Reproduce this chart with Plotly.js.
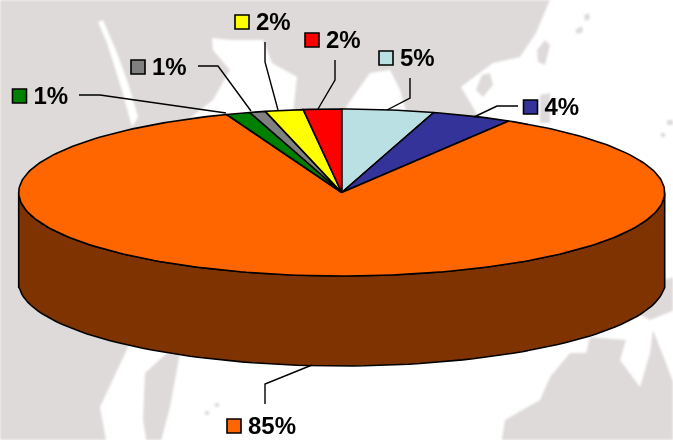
<!DOCTYPE html>
<html><head><meta charset="utf-8">
<script src="https://cdn.plot.ly/plotly-3.0.1.min.js"></script>
<style>html,body{margin:0;padding:0;background:#fff}#c{width:673px;height:440px}
#c .shapelayer{filter:blur(1.2px)}</style>
</head><body><div id="c"></div>
<script>
// Data: clockwise from 12 o'clock
const names = ['Cyan','Blue','Orange','Green','Gray','Yellow','Red'];
const values = [4.6,4.05,85.55,1.2,0.8,1.9,1.9];
const labels = ['5%','4%','85%','1%','1%','2%','2%'];
const colors = ['#bbe0e3','#333399','#ff6600','#008000','#808080','#ffff00','#ff0000'];
const sideColor = '#7f3300';

// Layout of the tilted pie
const cx=341.7, cy=192.5, rx=323, ry=83.5, depth=90, sideMin=95;
const keyX=[386,530.5,234,19.5,138,242,312];
const keyY=[58,107,426,96,67,22,40];
const textDx=14, textDy=1.5;
const leaderX=[[410,410,387],[518,497,474],[265,265,312],[79,100,226],[198,218,251],[265,265,278],[335,335,318]];
const leaderY=[[78,98,110],[106,106,117],[404,384,365],[95,95,113],[66,66,111],[42,62,110],[60,80,109]];

const px=a=>cx+rx*Math.sin(a), py=a=>cy-ry*Math.cos(a);
const total=values.reduce((s,v)=>s+v,0);
const traces=[];

// Side wall
const sx=[],sy=[];
for(let d=90;d<=270;d+=2){const a=d*Math.PI/180;sx.push(px(a));sy.push(py(a));}
for(let d=270;d>=90;d-=2){const a=d*Math.PI/180;sx.push(px(a));sy.push(Math.max(py(a)+depth,cy+sideMin));}
sx.push(sx[0]);sy.push(sy[0]);
traces.push({type:'scatter',mode:'lines',x:sx,y:sy,fill:'toself',fillcolor:sideColor,line:{color:'#000',width:1.6},hoverinfo:'skip',showlegend:false});

// Slices
let acc=0;
values.forEach((v,i)=>{
  const a0=acc/total*2*Math.PI, a1=(acc+v)/total*2*Math.PI; acc+=v;
  const x=[cx],y=[cy],n=Math.max(2,Math.ceil((a1-a0)/0.02));
  for(let k=0;k<=n;k++){const a=a0+(a1-a0)*k/n;x.push(px(a));y.push(py(a));}
  x.push(cx);y.push(cy);
  traces.push({type:'scatter',mode:'lines',name:names[i],x,y,fill:'toself',fillcolor:colors[i],line:{color:'#000',width:1.6},hoverinfo:'name',showlegend:false});
});

// Leader lines
values.forEach((v,i)=>traces.push({type:'scatter',mode:'lines',x:leaderX[i],y:leaderY[i],line:{color:'#000',width:1.4},hoverinfo:'skip',showlegend:false}));

// Legend keys and labels
traces.push({type:'scatter',mode:'markers',x:keyX,y:keyY,
  marker:{symbol:'square',size:14,color:colors,line:{color:'#000',width:1.6}},hoverinfo:'skip',showlegend:false,cliponaxis:false});
traces.push({type:'scatter',mode:'text',x:keyX.map(x=>x+textDx),y:keyY.map(y=>y+textDy),text:labels,textposition:'middle right',
  textfont:{family:'Liberation Sans, Arial, sans-serif',size:24,color:'#000',weight:700},hoverinfo:'skip',showlegend:false,cliponaxis:false});

// Faint map behind the chart
const land='#dfdada';
const poly=(pts,c)=>({type:'path',layer:'below',xref:'x',yref:'y',line:{width:0},fillcolor:c,
  path:'M'+pts.map(p=>p.join(',')).join('L')+'Z'});
const shapes=[
 poly([[-5,-5],[552,-5],[536,33],[520,57],[493,63],[470,80],[461,87],[473,107],[482,125],[400,300],[130,343],[100,407],[107,445],[-5,445]],land),
 poly([[212,38],[230,40],[263,40],[272,63],[297,77],[293,112],[190,118],[213,100],[230,70],[213,50]],'#ffffff'),
 poly([[346,112],[346,107],[370,73],[390,70],[400,90],[406,112]],'#ffffff'),
 poly([[98,22],[103,20],[117,53],[128,83],[138,117],[132,127],[122,90],[107,43]],'#ffffff'),
 poly([[476,90],[482,75],[490,73],[493,85],[483,97]],land),
 poly([[537,50],[545,40],[550,45],[545,65],[538,62]],land),
 poly([[575,30],[582,26],[583,32],[577,34]],land),
 poly([[584,15],[589,13],[590,19],[585,21]],land),
 poly([[540,95],[550,93],[550,123],[540,123]],land),
 poly([[667,120],[675,120],[675,125],[667,125]],land),
 poly([[661,133],[665,133],[665,137],[661,137]],land),
 poly([[167,353],[180,353],[175,380],[170,407],[160,445],[147,445],[143,420],[145,373]],land),
 poly([[215,403],[219,403],[219,407],[215,407]],land),
 poly([[205,411],[209,411],[209,415],[205,415]],land),
 poly([[501,445],[505,420],[540,400],[550,377],[570,353],[586,353],[590,337],[626,340],[620,360],[640,387],[650,353],[653,330],[666,363],[675,387],[675,445]],land),
 poly([[663,280],[675,277],[675,310],[650,320],[640,315]],land)
];

Plotly.newPlot('c',traces,{
  width:673,height:440,margin:{l:0,r:0,t:0,b:0},showlegend:false,
  paper_bgcolor:'#fff',plot_bgcolor:'#fff',
  xaxis:{range:[0,673],visible:false,fixedrange:true},
  yaxis:{range:[440,0],visible:false,fixedrange:true},
  shapes
},{displayModeBar:false});
</script></body></html>
